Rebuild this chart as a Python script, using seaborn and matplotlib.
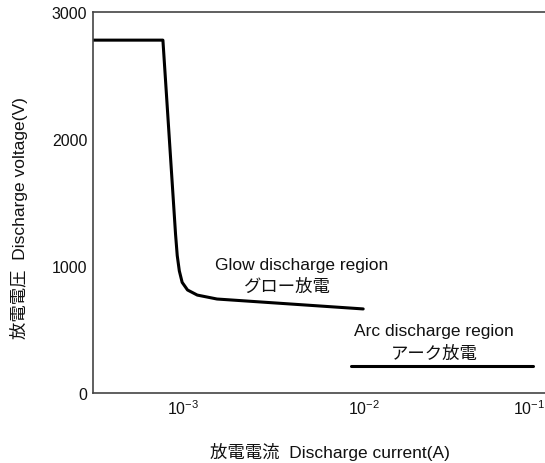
import numpy as np
import pandas as pd
import seaborn as sns
import matplotlib
matplotlib.use("Agg")
import matplotlib.pyplot as plt

# グロー放電 curve (current in A, voltage in V)
glow_current = [3.2e-4, 7.75e-4, 9.1e-4, 9.3e-4, 9.55e-4, 9.9e-4,
                1.06e-3, 1.2e-3, 1.542e-3, 3.91e-3, 9.9e-3]
glow_voltage = [2775, 2775, 1250, 1080, 960, 870, 810, 770, 739, 700, 661]

# アーク放電 level
arc_current = [8.49e-3, 8.63e-2]
arc_voltage = [212, 212]

x_ticks = [1e-3, 1e-2, 1e-1]
y_ticks = [0, 1000, 2000, 3000]

sns.set_theme(style="white")
plt.rcParams["font.family"] = ["Liberation Sans", "Noto Sans CJK JP"]
plt.rcParams["mathtext.fontset"] = "custom"
plt.rcParams["mathtext.rm"] = "Liberation Sans"
plt.rcParams["axes.unicode_minus"] = True

fig = plt.figure(figsize=(5.45, 4.64), dpi=100)
ax = fig.add_axes([0.1706, 0.1509, 0.8294, 0.8221])

df_glow = pd.DataFrame({"current": glow_current, "voltage": glow_voltage})
df_arc = pd.DataFrame({"current": arc_current, "voltage": arc_voltage})
sns.lineplot(data=df_glow, x="current", y="voltage", sort=False, color="black",
             linewidth=2.2, ax=ax)
sns.lineplot(data=df_arc, x="current", y="voltage", sort=False, color="black",
             linewidth=2.2, ax=ax)

ax.set_xscale("log")
ax.set_xlim(10 ** -3.497, 1e-1)
ax.set_ylim(0, 3000)
ax.set_xticks(x_ticks)
ax.set_yticks(y_ticks)
ax.minorticks_off()
ax.tick_params(axis="both", direction="in", length=7, width=1, color="#555555",
               labelsize=11.5, labelcolor="#111111")
ax.tick_params(axis="y", pad=4)

for side in ["left", "bottom", "top"]:
    ax.spines[side].set_color("#444444")
    ax.spines[side].set_linewidth(1.2)
ax.spines["right"].set_visible(False)

fig.canvas.draw()
ax.get_xticklabels()[-1].set_ha("right")

ax.set_xlabel("放電電流  Discharge current(A)", fontsize=12.5, color="#111111")
ax.set_ylabel("放電電圧  Discharge voltage(V)", fontsize=12.5, color="#111111")
ax.xaxis.set_label_coords(0.524, -0.152)
ax.xaxis.label.set_va("center")
ax.yaxis.set_label_coords(-0.164, 0.46)
ax.yaxis.label.set_va("center")

ax.text(4.54e-3, 1014, "Glow discharge region", ha="center", va="center",
        fontsize=12.5, color="#111111")
ax.text(3.8e-3, 841, "グロー放電", ha="center", va="center",
        fontsize=12.5, color="#111111")
ax.text(2.44e-2, 488, "Arc discharge region", ha="center", va="center",
        fontsize=12.5, color="#111111")
ax.text(2.44e-2, 315, "アーク放電", ha="center", va="center",
        fontsize=12.5, color="#111111")

fig.savefig("out.png", dpi=100)
